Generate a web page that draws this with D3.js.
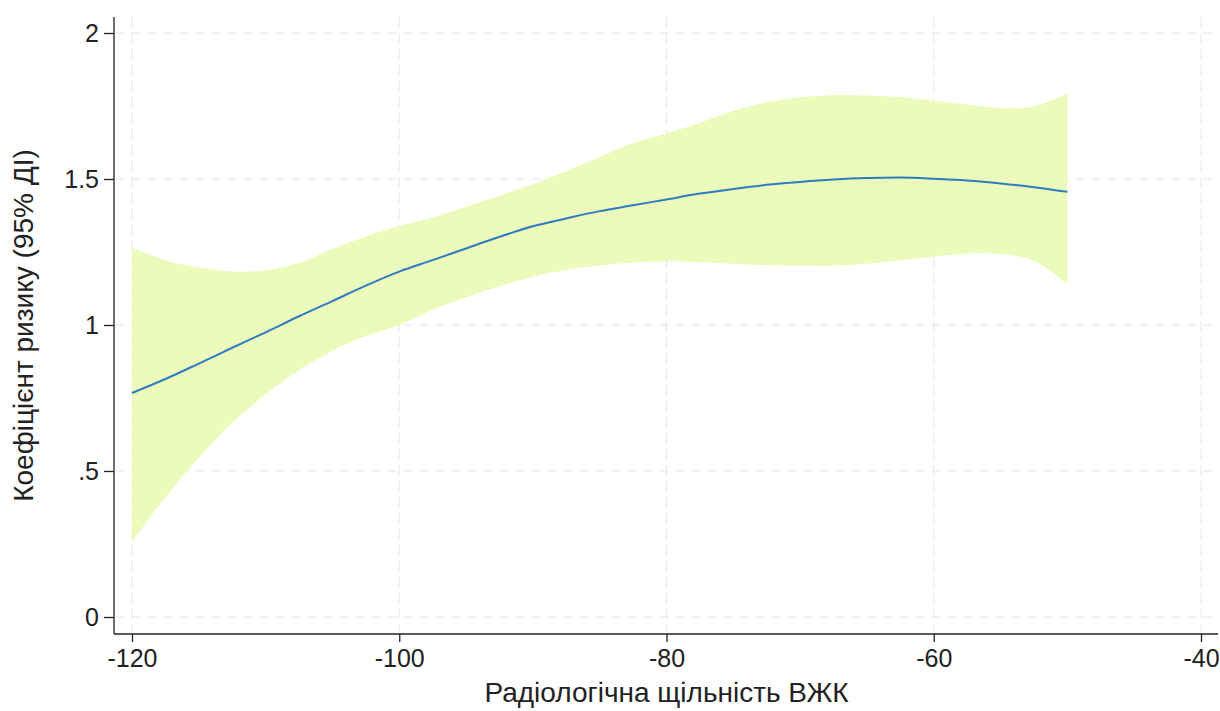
<!DOCTYPE html>
<html>
<head>
<meta charset="utf-8">
<script src="https://cdn.jsdelivr.net/npm/d3@7"></script>
<style>
  body { margin: 0; background: #fff; }
  svg text { font-family: "Liberation Sans", Arial, sans-serif; fill: #222; }
</style>
</head>
<body>
<div id="chart"></div>
<script>
// values
var xValues = [-120, -117.5, -115, -112.5, -110, -107.5, -105, -102.5, -100, -97.5, -95, -92.5, -90,
    -87.5, -85, -82.5, -80, -77.5, -75, -72.5, -70, -67.5, -65, -62.5, -60, -57.5, -55, -52.5, -50];
var estimate = [0.767, 0.815, 0.868, 0.922, 0.975, 1.03, 1.082, 1.135, 1.183, 1.222, 1.262, 1.302, 1.338,
    1.365, 1.39, 1.41, 1.43, 1.45, 1.466, 1.48, 1.49, 1.498, 1.503, 1.505, 1.501, 1.495, 1.485, 1.472, 1.456];
var upper = [1.265, 1.222, 1.197, 1.183, 1.187, 1.213, 1.26, 1.303, 1.339, 1.368, 1.405, 1.443, 1.482,
    1.527, 1.575, 1.623, 1.656, 1.693, 1.733, 1.763, 1.78, 1.787, 1.786, 1.781, 1.768, 1.755, 1.743, 1.749, 1.791];
var lower = [0.258, 0.41, 0.545, 0.665, 0.762, 0.845, 0.912, 0.962, 1.0, 1.052, 1.095, 1.133, 1.165,
    1.188, 1.204, 1.213, 1.218, 1.215, 1.21, 1.205, 1.203, 1.203, 1.21, 1.222, 1.234, 1.245, 1.243, 1.22, 1.139];
var xTicks = [-120, -100, -80, -60, -40];
var yTicks = [0, 0.5, 1, 1.5, 2];
var yTickLabels = ["0", ".5", "1", "1.5", "2"];

var width = 1220, height = 711;
var plotLeft = 114, plotRight = 1218, plotTop = 17, plotBottom = 634;

var svg = d3.select("#chart").append("svg")
    .attr("width", width)
    .attr("height", height);

var x = d3.scaleLinear().domain([-120, -40]).range([132, 1201]);
var y = d3.scaleLinear().domain([0, 2]).range([617, 33]);

var rows = xValues.map(function (d, i) {
    return { x: d, est: estimate[i], hi: upper[i], lo: lower[i] };
});

// grid lines (dashed, very light)
svg.append("g").selectAll("line")
    .data(yTicks)
    .enter().append("line")
    .attr("x1", plotLeft + 1).attr("x2", plotRight)
    .attr("y1", function (d) { return y(d); })
    .attr("y2", function (d) { return y(d); })
    .attr("stroke", "#e6e6e6")
    .attr("stroke-dasharray", "10,6");

svg.append("g").selectAll("line")
    .data(xTicks)
    .enter().append("line")
    .attr("y1", plotTop).attr("y2", plotBottom - 1)
    .attr("x1", function (d) { return x(d); })
    .attr("x2", function (d) { return x(d); })
    .attr("stroke", "#e6e6e6")
    .attr("stroke-dasharray", "10,6");

// confidence band
var area = d3.area()
    .x(function (d) { return x(d.x); })
    .y0(function (d) { return y(d.lo); })
    .y1(function (d) { return y(d.hi); })
    .curve(d3.curveCatmullRom.alpha(0.5));

svg.append("path")
    .datum(rows)
    .attr("d", area)
    .attr("fill", "#ecfbbb");

// fitted line
var line = d3.line()
    .x(function (d) { return x(d.x); })
    .y(function (d) { return y(d.est); })
    .curve(d3.curveCatmullRom.alpha(0.5));

svg.append("path")
    .datum(rows)
    .attr("d", line)
    .attr("fill", "none")
    .attr("stroke", "#2f7cc0")
    .attr("stroke-width", 2);

// x axis
var xAxis = svg.append("g")
    .attr("transform", "translate(0," + plotBottom + ")")
    .call(d3.axisBottom(x).tickValues(xTicks).tickSize(8).tickPadding(7).tickFormat(d3.format("d")));
xAxis.select(".domain").attr("d", "M" + plotLeft + ",0H" + plotRight).attr("stroke", "#222").attr("stroke-width", 1.3);
xAxis.selectAll(".tick line").attr("stroke", "#222").attr("stroke-width", 1.3);
xAxis.selectAll(".tick text").style("font-size", "25px").text(function (d) { return d; });

// y axis
var yAxis = svg.append("g")
    .attr("transform", "translate(" + plotLeft + ",0)")
    .call(d3.axisLeft(y).tickValues(yTicks).tickSize(10).tickPadding(5)
        .tickFormat(function (d, i) { return yTickLabels[i]; }));
yAxis.select(".domain").attr("d", "M0," + plotTop + "V" + plotBottom).attr("stroke", "#222").attr("stroke-width", 1.3);
yAxis.selectAll(".tick line").attr("stroke", "#222").attr("stroke-width", 1.3);
yAxis.selectAll(".tick text").style("font-size", "25px");

// axis titles
svg.append("text")
    .attr("x", x(-80))
    .attr("y", 702)
    .attr("text-anchor", "middle")
    .style("font-size", "28px")
    .text("Радіологічна щільність ВЖК");

svg.append("text")
    .attr("transform", "translate(33," + ((plotTop + plotBottom) / 2) + ") rotate(-90)")
    .attr("text-anchor", "middle")
    .style("font-size", "28px")
    .text("Коефіцієнт ризику (95% ДІ)");
</script>
</body>
</html>
